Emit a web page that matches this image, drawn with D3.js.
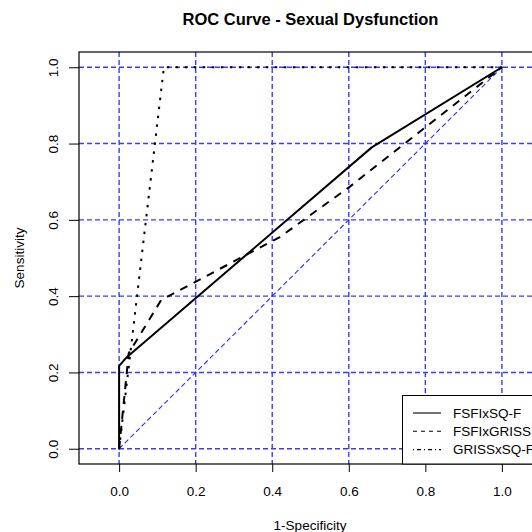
<!DOCTYPE html>
<html>
<head>
<meta charset="utf-8">
<script src="https://cdn.jsdelivr.net/npm/d3@7"></script>
<style>
  body { margin: 0; background: #fff; }
  svg { display: block; font-family: "Liberation Sans", Arial, sans-serif; }
</style>
</head>
<body>
<div id="chart"></div>
<script>
// ROC points
const fprSqf = [0, 0, 0.02, 0.66, 1]
const tprSqf = [0, 0.217, 0.24, 0.79, 1]
const fprGriss = [0, 0.025, 0.11, 0.42, 0.6, 1]
const tprGriss = [0, 0.25, 0.39, 0.555, 0.685, 1]
const fprGrissSqf = [0, 0.117, 1]
const tprGrissSqf = [0, 1, 1]

const seriesNames = ["FSFIxSQ-F", "FSFIxGRISS", "GRISSxSQ-F"]
const tickValues = [0, 0.2, 0.4, 0.6, 0.8, 1.0]

const W = 532, H = 532
const margin = { top: 52, right: -10, bottom: 68, left: 79 }

const svg = d3.select("#chart").append("svg")
  .attr("width", W).attr("height", H)

const x = d3.scaleLinear()
  .domain([-0.1048, 1.1048])
  .range([margin.left, W - margin.right])
const y = d3.scaleLinear()
  .domain([-0.04, 1.04])
  .range([H - margin.bottom, margin.top])

const gridColor = "#3a3aff"

// grid
svg.append("g").selectAll("line.v")
  .data(tickValues).join("line")
  .attr("x1", d => x(d)).attr("x2", d => x(d))
  .attr("y1", y.range()[1]).attr("y2", y.range()[0])
  .attr("stroke", gridColor).attr("stroke-width", 1.4)
  .attr("stroke-dasharray", "5,3")
svg.append("g").selectAll("line.h")
  .data(tickValues).join("line")
  .attr("x1", x.range()[0]).attr("x2", x.range()[1])
  .attr("y1", d => y(d)).attr("y2", d => y(d))
  .attr("stroke", gridColor).attr("stroke-width", 1.4)
  .attr("stroke-dasharray", "5,3")

// chance line
svg.append("line")
  .attr("x1", x(0)).attr("y1", y(0))
  .attr("x2", x(1)).attr("y2", y(1))
  .attr("stroke", "#2a2aff").attr("stroke-width", 1.1)
  .attr("stroke-dasharray", "5,3")

const line = d3.line().x(d => x(d[0])).y(d => y(d[1]))

const curves = [
  { fpr: fprSqf, tpr: tprSqf, dash: null, cap: "round" },
  { fpr: fprGriss, tpr: tprGriss, dash: "8,7", cap: "butt" },
  { fpr: fprGrissSqf, tpr: tprGrissSqf, dash: "2.5,6.5", cap: "butt" }
]

curves.forEach(c => {
  svg.append("path")
    .datum(d3.zip(c.fpr, c.tpr))
    .attr("d", line)
    .attr("fill", "none")
    .attr("stroke", "#000")
    .attr("stroke-width", 2)
    .attr("stroke-linejoin", "round")
    .attr("stroke-linecap", c.cap)
    .attr("stroke-dasharray", c.dash)
})

// box
svg.append("rect")
  .attr("x", x.range()[0]).attr("y", y.range()[1])
  .attr("width", x.range()[1] - x.range()[0])
  .attr("height", y.range()[0] - y.range()[1])
  .attr("fill", "none").attr("stroke", "#000").attr("stroke-width", 1.2)

// axes
const xAxis = svg.append("g")
  .attr("transform", `translate(0,${y.range()[0]})`)
  .call(d3.axisBottom(x).tickValues(tickValues).tickFormat(d3.format(".1f")).tickSize(8).tickPadding(14))
xAxis.select(".domain").remove()
xAxis.selectAll("text").attr("font-size", 13.5).attr("fill", "#000").attr("font-family", null)
xAxis.selectAll("line").attr("stroke", "#000")

const yAxis = svg.append("g")
  .attr("transform", `translate(${x.range()[0]},0)`)
  .call(d3.axisLeft(y).tickValues(tickValues).tickFormat(d3.format(".1f")).tickSize(10))
yAxis.select(".domain").remove()
yAxis.selectAll("text")
  .attr("x", null).attr("dy", null)
  .attr("text-anchor", "middle")
  .attr("transform", "translate(-21.5,0) rotate(-90)")
  .attr("font-size", 13.5).attr("fill", "#000").attr("font-family", null)
yAxis.selectAll("line").attr("stroke", "#000")

// titles
svg.append("text")
  .attr("x", (x.range()[0] + 542) / 2).attr("y", 25)
  .attr("text-anchor", "middle")
  .attr("font-weight", "bold").attr("font-size", 16.5)
  .text("ROC Curve - Sexual Dysfunction")

svg.append("text")
  .attr("x", 310).attr("y", 530)
  .attr("text-anchor", "middle").attr("font-size", 13.5)
  .text("1-Specificity")

svg.append("text")
  .attr("transform", `translate(24,${(y.range()[0] + y.range()[1]) / 2}) rotate(-90)`)
  .attr("text-anchor", "middle").attr("font-size", 13.5)
  .text("Sensitivity")

// legend (bottom right of plot region, runs past the window edge as in the reference)
const legend = svg.append("g")
legend.append("rect")
  .attr("x", 402.5).attr("y", 395.5)
  .attr("width", x.range()[1] - 402.5).attr("height", y.range()[0] - 395.5)
  .attr("fill", "#fff").attr("stroke", "#000").attr("stroke-width", 1)

const legendDash = [null, "4,4", "1,3,4,3"]
const legendRows = legend.selectAll("g.row")
  .data(seriesNames).join("g")
  .attr("transform", (d, i) => `translate(0,${413 + i * 18.3})`)
legendRows.append("line")
  .attr("x1", 413).attr("x2", 441)
  .attr("stroke", "#000").attr("stroke-width", 1.1)
  .attr("stroke-dasharray", (d, i) => legendDash[i])
legendRows.append("text")
  .attr("x", 453).attr("dy", "0.35em")
  .attr("font-size", 13.5)
  .text(d => d)
</script>
</body>
</html>
